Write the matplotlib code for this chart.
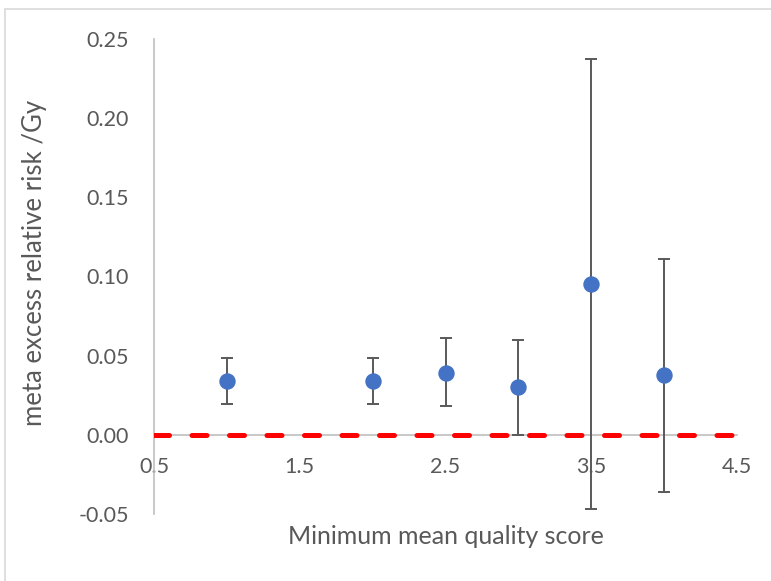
import matplotlib
matplotlib.use("Agg")
import matplotlib.pyplot as plt
from matplotlib.patches import Rectangle

plt.rcParams['font.family'] = ['Lato', 'DejaVu Sans']

# Minimum mean quality score thresholds and pooled estimates
quality_score = [1.0, 2.0, 2.5, 3.0, 3.5, 4.0]
err_per_gy = [0.0341, 0.0341, 0.0390, 0.0301, 0.0953, 0.0379]
ci_lower = [0.0196, 0.0196, 0.0183, 0.0000, -0.0467, -0.0358]
ci_upper = [0.0486, 0.0486, 0.0612, 0.0600, 0.2374, 0.1110]

x_ticks = [0.5, 1.5, 2.5, 3.5, 4.5]
y_ticks = [-0.05, 0.00, 0.05, 0.10, 0.15, 0.20, 0.25]
reference_level = 0.0

fig = plt.figure(figsize=(7.71, 5.81), dpi=100)
fig.patches.append(Rectangle((5 / 771, -0.1), 1.2, 1 - 9 / 581 + 0.1,
                             transform=fig.transFigure, fill=False,
                             edgecolor='#D9D9D9', linewidth=1.2))

ax = fig.add_axes([154 / 771, 1 - 514 / 581, (737 - 154) / 771, (514 - 39) / 581])
ax.set_xlim(x_ticks[0], x_ticks[-1])
ax.set_ylim(y_ticks[0], y_ticks[-1])

for side in ('top', 'right'):
    ax.spines[side].set_visible(False)
ax.spines['left'].set_color('#BFBFBF')
ax.spines['left'].set_linewidth(1.2)
ax.spines['bottom'].set_position(('data', 0))
ax.spines['bottom'].set_color('#BFBFBF')
ax.spines['bottom'].set_linewidth(1.2)

lower_err = [v - lo for v, lo in zip(err_per_gy, ci_lower)]
upper_err = [hi - v for v, hi in zip(err_per_gy, ci_upper)]
ax.errorbar(quality_score, err_per_gy, yerr=[lower_err, upper_err],
            fmt='o', color='#4472C4', markersize=10.8, ecolor='#595959',
            elinewidth=1.4, capsize=4.5, capthick=1.4, zorder=4)

ref, = ax.plot([x_ticks[0], x_ticks[-1]], [reference_level, reference_level],
               color='#FF0000', linewidth=3.6, solid_capstyle='round',
               dash_capstyle='round', zorder=3)
ref.set_dashes((3.0, 4.5))

ax.set_xticks(x_ticks)
ax.set_xticklabels([f'{v:.1f}' for v in x_ticks])
ax.set_yticks(y_ticks)
ax.set_yticklabels([f'{v:.2f}' for v in y_ticks])
ax.tick_params(axis='both', length=0, labelsize=15.5, labelcolor='#595959')
ax.tick_params(axis='x', pad=16)
ax.tick_params(axis='y', pad=18)

ax.set_xlabel('Minimum mean quality score', fontsize=18, color='#595959')
ax.set_ylabel('meta excess relative risk /Gy', fontsize=18.5, color='#595959')

ax.xaxis.set_label_coords(446 / 771, 1 - 537 / 581, transform=fig.transFigure)
ax.xaxis.label.set_va('center')
ax.yaxis.set_label_coords(35 / 771, 1 - 263 / 581, transform=fig.transFigure)
ax.yaxis.label.set_va('center')

fig.savefig('out.png', dpi=100)
